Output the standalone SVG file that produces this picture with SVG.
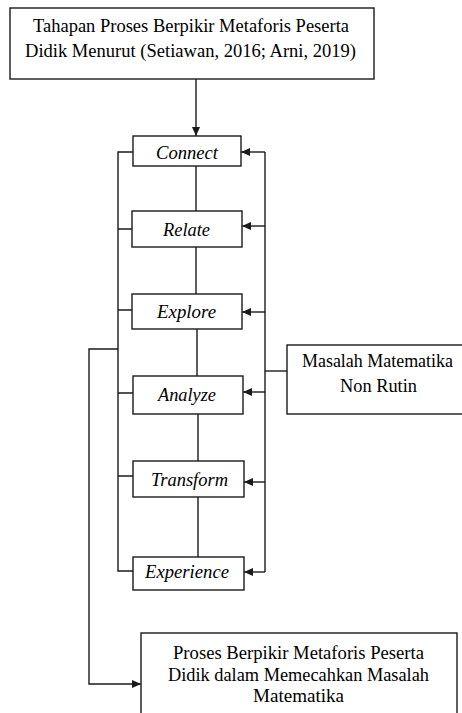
<svg xmlns="http://www.w3.org/2000/svg" width="462" height="713" viewBox="0 0 462 713">
<defs>
<marker id="ah" markerUnits="userSpaceOnUse" markerWidth="10" markerHeight="10" refX="9" refY="5" orient="auto">
<path d="M0,1 L9,5 L0,9 Z" fill="#1a1a1a"/>
</marker>
</defs>
<g id="connectors" fill="none" stroke="#1a1a1a" stroke-width="1.4">
<path d="M196,79 V136" marker-end="url(#ah)"/>
<path d="M196,166 V211 M196,247 V294 M197,329 V376 M198,414 V461 M198,497 V557"/>
<path d="M133,152 H118 V571 H133 M118,229 H132 M118,310 H132 M118,393 H133 M118,476 H133"/>
<path d="M118,349 H89 V684 H141" marker-end="url(#ah)"/>
<path d="M265,152 V572"/>
<path d="M265,152 H241" marker-end="url(#ah)"/>
<path d="M265,226 H242" marker-end="url(#ah)"/>
<path d="M265,312 H242" marker-end="url(#ah)"/>
<path d="M265,392 H243" marker-end="url(#ah)"/>
<path d="M265,482 H244" marker-end="url(#ah)"/>
<path d="M265,572 H244" marker-end="url(#ah)"/>
<path d="M265,371 H287"/>
</g>
<g id="top">
<rect x="10" y="8" width="364" height="71" fill="#fff" stroke="#1a1a1a" stroke-width="1.4"/>
<text x="33" y="32" font-family="Liberation Serif" font-size="18" textLength="316" lengthAdjust="spacingAndGlyphs">Tahapan Proses Berpikir Metaforis Peserta</text>
<text x="25" y="57" font-family="Liberation Serif" font-size="18" textLength="331" lengthAdjust="spacingAndGlyphs">Didik Menurut (Setiawan, 2016; Arni, 2019)</text>
</g>
<g id="connect">
<rect x="133" y="136" width="108" height="30" fill="#fff" stroke="#1a1a1a" stroke-width="1.4"/>
<text x="156" y="159" font-family="Liberation Serif" font-size="18" font-style="italic" textLength="62" lengthAdjust="spacingAndGlyphs">Connect</text>
</g>
<g id="relate">
<rect x="132" y="211" width="110" height="36" fill="#fff" stroke="#1a1a1a" stroke-width="1.4"/>
<text x="163" y="236" font-family="Liberation Serif" font-size="18" font-style="italic" textLength="47" lengthAdjust="spacingAndGlyphs">Relate</text>
</g>
<g id="explore">
<rect x="132" y="294" width="110" height="35" fill="#fff" stroke="#1a1a1a" stroke-width="1.4"/>
<text x="157" y="318" font-family="Liberation Serif" font-size="18" font-style="italic" textLength="59" lengthAdjust="spacingAndGlyphs">Explore</text>
</g>
<g id="analyze">
<rect x="133" y="376" width="110" height="38" fill="#fff" stroke="#1a1a1a" stroke-width="1.4"/>
<text x="158" y="401" font-family="Liberation Serif" font-size="18" font-style="italic" textLength="58" lengthAdjust="spacingAndGlyphs">Analyze</text>
</g>
<g id="transform">
<rect x="133" y="461" width="111" height="36" fill="#fff" stroke="#1a1a1a" stroke-width="1.4"/>
<text x="151" y="486" font-family="Liberation Serif" font-size="18" font-style="italic" textLength="77" lengthAdjust="spacingAndGlyphs">Transform</text>
</g>
<g id="experience">
<rect x="133" y="557" width="111" height="33" fill="#fff" stroke="#1a1a1a" stroke-width="1.4"/>
<text x="145" y="578" font-family="Liberation Serif" font-size="18" font-style="italic" textLength="84" lengthAdjust="spacingAndGlyphs">Experience</text>
</g>
<g id="masalah">
<rect x="287" y="345" width="180" height="69" fill="#fff" stroke="#1a1a1a" stroke-width="1.4"/>
<text x="302" y="367" font-family="Liberation Serif" font-size="18" textLength="151" lengthAdjust="spacingAndGlyphs">Masalah Matematika</text>
<text x="340" y="392" font-family="Liberation Serif" font-size="18" textLength="77" lengthAdjust="spacingAndGlyphs">Non Rutin</text>
</g>
<g id="proses">
<rect x="141" y="633" width="316" height="90" fill="#fff" stroke="#1a1a1a" stroke-width="1.4"/>
<text x="173" y="659" font-family="Liberation Serif" font-size="18" textLength="251" lengthAdjust="spacingAndGlyphs">Proses Berpikir Metaforis Peserta</text>
<text x="168" y="681" font-family="Liberation Serif" font-size="18" textLength="261" lengthAdjust="spacingAndGlyphs">Didik dalam Memecahkan Masalah</text>
<text x="253" y="702" font-family="Liberation Serif" font-size="18" textLength="91" lengthAdjust="spacingAndGlyphs">Matematika</text>
</g>
</svg>
